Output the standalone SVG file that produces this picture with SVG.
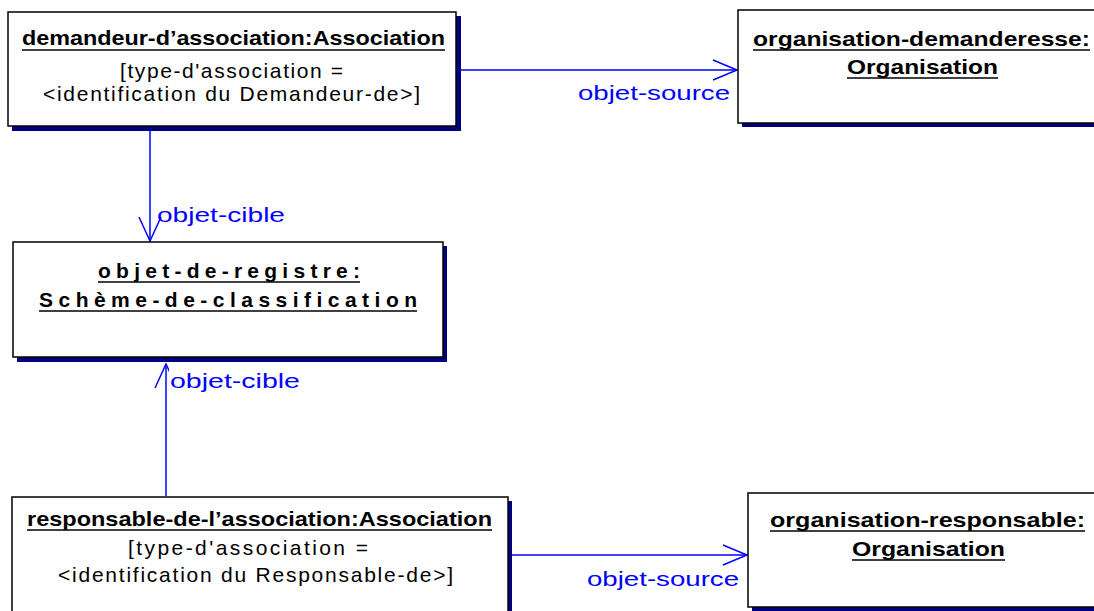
<svg xmlns="http://www.w3.org/2000/svg" width="1094" height="611" viewBox="0 0 1094 611">
  <style>
    .shadow { fill: #000080; }
    .box { fill: #ffffff; stroke: #000000; stroke-width: 1.5; }
    .title { font-family: "Liberation Sans Narrow", "Liberation Sans", Arial, sans-serif; font-weight: bold; font-size: 21px; fill: #000000; }
    .spaced { font-family: "Liberation Sans", Arial, sans-serif; font-weight: bold; font-size: 21px; fill: #000000; }
    .body { font-family: "Liberation Sans", Arial, sans-serif; font-size: 21px; fill: #000000; }
    .ul { stroke: #000000; stroke-width: 1.5; }
    .conn { stroke: #0000ff; stroke-width: 1.5; fill: none; }
    .role { font-family: "Liberation Sans", Arial, sans-serif; font-size: 21px; fill: #0000ff; }
  </style>

  <rect width="1094" height="611" fill="#ffffff"/>

  <!-- Connectors -->
  <g id="connectors">
    <!-- demandeur -> organisation-demanderesse -->
    <line class="conn" x1="460" y1="70" x2="737" y2="70"/>
    <polyline class="conn" points="713,60 737,70 713,80"/>
    <text class="role" x="578" y="100" textLength="152" lengthAdjust="spacingAndGlyphs">objet-source</text>

    <!-- demandeur -> objet-de-registre -->
    <line class="conn" x1="150" y1="131" x2="150" y2="241"/>
    <polyline class="conn" points="139,217 150,241 161,217"/>
    <text class="role" x="157" y="222" textLength="128" lengthAdjust="spacingAndGlyphs">objet-cible</text>

    <!-- responsable -> objet-de-registre (label background hides the right wing) -->
    <line class="conn" x1="166" y1="496" x2="166" y2="364"/>
    <polyline class="conn" points="155,388 166,364 177,388"/>
    <rect x="169" y="368" width="132" height="24" fill="#ffffff"/>
    <text class="role" x="170" y="388" textLength="130" lengthAdjust="spacingAndGlyphs">objet-cible</text>

    <!-- responsable -> organisation-responsable -->
    <line class="conn" x1="512" y1="555" x2="747" y2="555"/>
    <polyline class="conn" points="723,545 747,555 723,565"/>
    <text class="role" x="587" y="586" textLength="152" lengthAdjust="spacingAndGlyphs">objet-source</text>
  </g>

  <!-- demandeur-d'association:Association -->
  <g id="demandeur-association">
    <rect class="shadow" x="12" y="16" width="449" height="115"/>
    <rect class="box" x="8" y="12" width="448" height="114"/>
    <text class="title" x="22" y="45" textLength="423" lengthAdjust="spacingAndGlyphs">demandeur-d’association:Association</text>
    <line class="ul" x1="22" y1="50" x2="445" y2="50"/>
    <text class="body" x="120" y="78" textLength="223">[type-d'association =</text>
    <text class="body" x="43" y="101" textLength="377">&lt;identification du Demandeur-de&gt;]</text>
  </g>

  <!-- organisation-demanderesse:Organisation -->
  <g id="organisation-demanderesse">
    <rect class="shadow" x="742" y="14" width="370" height="113"/>
    <rect class="box" x="738" y="10" width="370" height="113"/>
    <text class="title" x="753" y="46" textLength="337" lengthAdjust="spacingAndGlyphs">organisation-demanderesse:</text>
    <line class="ul" x1="753" y1="50" x2="1090" y2="50"/>
    <text class="title" x="847" y="74" textLength="151" lengthAdjust="spacingAndGlyphs">Organisation</text>
    <line class="ul" x1="847" y1="78" x2="998" y2="78"/>
  </g>

  <!-- objet-de-registre:Schème-de-classification -->
  <g id="objet-de-registre">
    <rect class="shadow" x="17" y="246" width="430" height="116"/>
    <rect class="box" x="13" y="242" width="430" height="115"/>
    <text class="spaced" x="98" y="278" textLength="262" lengthAdjust="spacing">objet-de-registre:</text>
    <line class="ul" x1="98" y1="282" x2="360" y2="282"/>
    <text class="spaced" x="39" y="307" textLength="378" lengthAdjust="spacing">Schème-de-classification</text>
    <line class="ul" x1="39" y1="311" x2="417" y2="311"/>
  </g>

  <!-- responsable-de-l'association:Association -->
  <g id="responsable-association">
    <rect class="shadow" x="16" y="501" width="496" height="130"/>
    <rect class="box" x="12" y="497" width="496" height="130"/>
    <text class="title" x="27" y="526" textLength="465" lengthAdjust="spacingAndGlyphs">responsable-de-l’association:Association</text>
    <line class="ul" x1="27" y1="530" x2="492" y2="530"/>
    <text class="body" x="128" y="555" textLength="240">[type-d'association =</text>
    <text class="body" x="58" y="582" textLength="395">&lt;identification du Responsable-de&gt;]</text>
  </g>

  <!-- organisation-responsable:Organisation -->
  <g id="organisation-responsable">
    <rect class="shadow" x="752" y="497" width="360" height="114"/>
    <rect class="box" x="748" y="493" width="360" height="114"/>
    <text class="title" x="770" y="527" textLength="315" lengthAdjust="spacingAndGlyphs">organisation-responsable:</text>
    <line class="ul" x1="770" y1="531" x2="1085" y2="531"/>
    <text class="title" x="852" y="556" textLength="153" lengthAdjust="spacingAndGlyphs">Organisation</text>
    <line class="ul" x1="852" y1="560" x2="1005" y2="560"/>
  </g>
</svg>
